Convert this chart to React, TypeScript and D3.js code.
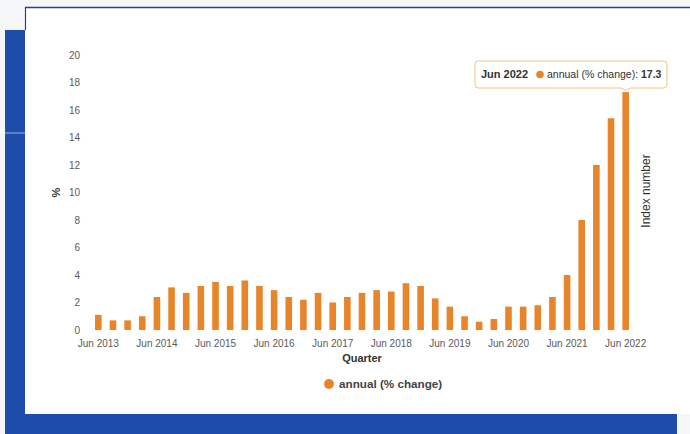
import React from "react";
import * as d3 from "d3";

const quarters = [
  "Jun 2013", "Sep 2013", "Dec 2013", "Mar 2014",
  "Jun 2014", "Sep 2014", "Dec 2014", "Mar 2015",
  "Jun 2015", "Sep 2015", "Dec 2015", "Mar 2016",
  "Jun 2016", "Sep 2016", "Dec 2016", "Mar 2017",
  "Jun 2017", "Sep 2017", "Dec 2017", "Mar 2018",
  "Jun 2018", "Sep 2018", "Dec 2018", "Mar 2019",
  "Jun 2019", "Sep 2019", "Dec 2019", "Mar 2020",
  "Jun 2020", "Sep 2020", "Dec 2020", "Mar 2021",
  "Jun 2021", "Sep 2021", "Dec 2021", "Mar 2022",
  "Jun 2022",
];

const annualChange = [
  1.1, 0.7, 0.7, 1.0,
  2.4, 3.1, 2.7, 3.2,
  3.5, 3.2, 3.6, 3.2,
  2.9, 2.4, 2.2, 2.7,
  2.0, 2.4, 2.7, 2.9,
  2.8, 3.4, 3.2, 2.3,
  1.7, 1.0, 0.6, 0.8,
  1.7, 1.7, 1.8, 2.4,
  4.0, 8.0, 12.0, 15.4,
  17.3,
];

const yTicks = [0, 2, 4, 6, 8, 10, 12, 14, 16, 18, 20];
const xTickLabels = [
  "Jun 2013", "Jun 2014", "Jun 2015", "Jun 2016", "Jun 2017",
  "Jun 2018", "Jun 2019", "Jun 2020", "Jun 2021", "Jun 2022",
];
const seriesName = "annual (% change)";
const highlighted = "Jun 2022";

const BAR = "#e8852b";
const BLUE = "#1d4cab";
const FONT = "'Liberation Sans', Arial, sans-serif";

export default function App() {
  const x = d3
    .scaleBand<string>()
    .domain(quarters)
    .range([91, 633])
    .paddingInner(0.55)
    .paddingOuter(0.275);
  const y = d3.scaleLinear().domain([0, 20]).range([330, 55]);

  const hiIdx = quarters.indexOf(highlighted);
  const hiVal = annualChange[hiIdx];
  const hx = (x(highlighted) ?? 0) + x.bandwidth() / 2;
  const hy = y(hiVal);

  const tipRight = 667;
  const tipLeft = 475;
  const tipTop = 61;
  const tipBottom = 88;

  return (
    <svg
      width={690}
      height={434}
      style={{ position: "absolute", left: 0, top: 0 }}
      fontFamily={FONT}
    >
      <rect x={0} y={0} width={690} height={434} fill="#f5f6f8" />
      {/* blue backdrop */}
      <rect x={5} y={30} width={30} height={404} fill={BLUE} />
      <rect x={5} y={414} width={672} height={20} fill={BLUE} />
      <line x1={5} x2={40} y1={133} y2={133} stroke="#9fb3dc" strokeWidth={1} />
      {/* card */}
      <rect x={25} y={7} width={670} height={407} fill="#ffffff" />
      <line x1={25} x2={690} y1={7.5} y2={7.5} stroke="#2a3f8f" strokeWidth={1.5} />
      <line x1={25.5} x2={25.5} y1={7} y2={30} stroke="#2a3f8f" strokeWidth={1.2} />

      {/* y axis ticks */}
      {yTicks.map((t) => (
        <text
          key={t}
          x={80}
          y={y(t)}
          dy="0.35em"
          textAnchor="end"
          fontSize={10}
          fill="#5a5a5a"
        >
          {t}
        </text>
      ))}
      <text
        transform={`translate(60,${y(10)}) rotate(-90)`}
        textAnchor="middle"
        fontSize={11}
        fontWeight="bold"
        fill="#333"
      >
        %
      </text>

      {/* bars */}
      {quarters.map((q, i) => (
        <rect
          key={q}
          x={x(q)}
          y={y(annualChange[i])}
          width={x.bandwidth()}
          height={y(0) - y(annualChange[i])}
          fill={BAR}
        />
      ))}

      {/* x tick labels */}
      {xTickLabels.map((l) => (
        <text
          key={l}
          x={(x(l) ?? 0) + x.bandwidth() / 2}
          y={347}
          textAnchor="middle"
          fontSize={10}
          fill="#5a5a5a"
        >
          {l}
        </text>
      ))}
      <text x={362} y={362} textAnchor="middle" fontSize={11} fontWeight="bold" fill="#333">
        Quarter
      </text>

      {/* right axis title */}
      <text
        transform={`translate(650,191) rotate(-90)`}
        textAnchor="middle"
        fontSize={12}
        fill="#333"
      >
        Index number
      </text>

      {/* legend */}
      <circle cx={329} cy={384} r={5} fill={BAR} />
      <text x={339} y={388} fontSize={11.7} fontWeight="bold" fill="#444">
        {seriesName}
      </text>

      {/* tooltip */}
      <path
        d={`M${tipLeft + 3},${tipTop} H${tipRight - 3} Q${tipRight},${tipTop} ${tipRight},${tipTop + 3} V${tipBottom - 3} Q${tipRight},${tipBottom} ${tipRight - 3},${tipBottom} H${hx + 5} L${hx},${hy - 2} L${hx - 5},${tipBottom} H${tipLeft + 3} Q${tipLeft},${tipBottom} ${tipLeft},${tipBottom - 3} V${tipTop + 3} Q${tipLeft},${tipTop} ${tipLeft + 3},${tipTop} Z`}
        fill="#ffffff"
        stroke="#f2c67a"
        strokeWidth={1}
      />
      <text x={481} y={78} fontSize={11} fontWeight="bold" fill="#333">
        {highlighted}
      </text>
      <circle cx={540} cy={74.5} r={3.8} fill={BAR} />
      <text x={547} y={78} fontSize={10.5} fill="#333">
        {seriesName}:{" "}
        <tspan fontWeight="bold">{hiVal}</tspan>
      </text>
    </svg>
  );
}
